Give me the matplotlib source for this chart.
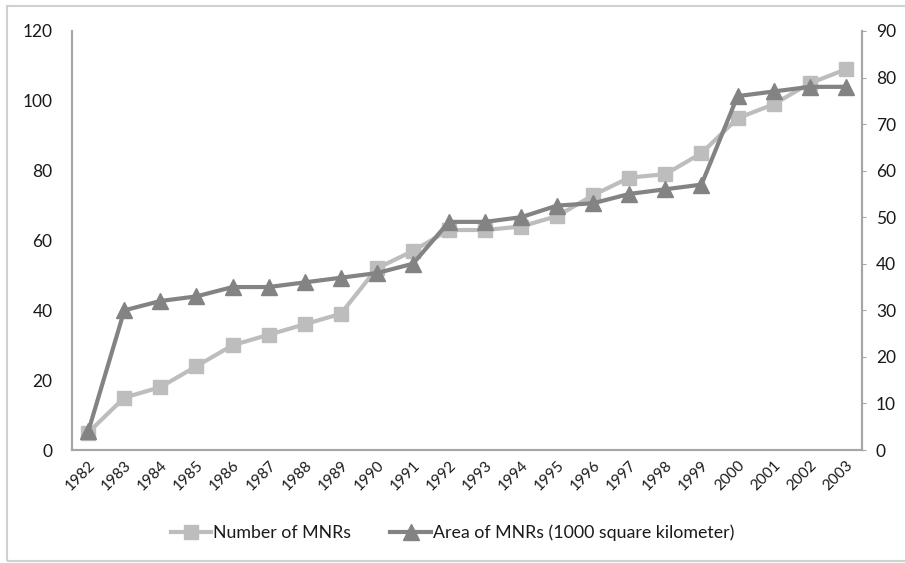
import matplotlib
matplotlib.use("Agg")
import matplotlib.pyplot as plt
from matplotlib.patches import Rectangle

years = [str(y) for y in range(1982, 2004)]
number_mnrs = [5, 15, 18, 24, 30, 33, 36, 39, 52, 57, 63, 63, 64, 67, 73, 78,
               79, 85, 95, 99, 105, 109]
area_mnrs = [4, 30, 32, 33, 35, 35, 36, 37, 38, 40, 49, 49, 50, 52.5, 53, 55,
             56, 57, 76, 77, 78, 78]

LIGHT = "#bdbdbd"
DARK = "#838383"
SPINE = "#a6a6a6"
TXT = "#1a1a1a"

plt.rcParams["font.family"] = ["Lato", "DejaVu Sans"]

fig = plt.figure(figsize=(9.05, 5.63), dpi=100)
ax = fig.add_axes([0.0796, 0.2007, 0.8729, 0.7443])
ax2 = ax.twinx()

x = list(range(len(years)))
l1, = ax.plot(x, number_mnrs, color=LIGHT, lw=3, marker="s", ms=10.5,
              label="Number of MNRs", zorder=2)
l2, = ax2.plot(x, area_mnrs, color=DARK, lw=3, marker="^", ms=11,
               label="Area of MNRs (1000 square kilometer)", zorder=3)

ax.set_xlim(-0.45, len(years) - 0.55)
ax.set_ylim(0, 120)
ax.set_yticks(range(0, 121, 20))
ax2.set_ylim(0, 90)
ax2.set_yticks(range(0, 91, 10))
ax.set_xticks(x)
ax.set_xticklabels(years, rotation=45, ha="right", rotation_mode="anchor")

for a in (ax, ax2):
    a.spines["top"].set_visible(False)
    for s in ("left", "right", "bottom"):
        a.spines[s].set_color(SPINE)
        a.spines[s].set_linewidth(1.5)
ax.tick_params(axis="y", length=0, pad=14, labelsize=12.5, labelcolor=TXT)
ax.tick_params(axis="x", length=0, pad=6, labelsize=11, labelcolor=TXT)
ax2.tick_params(axis="y", length=3, color=SPINE, pad=7, labelsize=12.5,
                labelcolor=TXT)

fig.legend(handles=[l1, l2], loc="center", bbox_to_anchor=(0.5, 0.053),
           ncol=2, frameon=False, fontsize=12.8, handlelength=2.3,
           columnspacing=2.2, handletextpad=0.1, labelcolor=TXT)

fig.patches.append(Rectangle((0.008, 0.003), 1.0, 0.987, transform=fig.transFigure,
                             fill=False, edgecolor="#d0d0d0", lw=1.5))

fig.savefig("out.png", dpi=100)
